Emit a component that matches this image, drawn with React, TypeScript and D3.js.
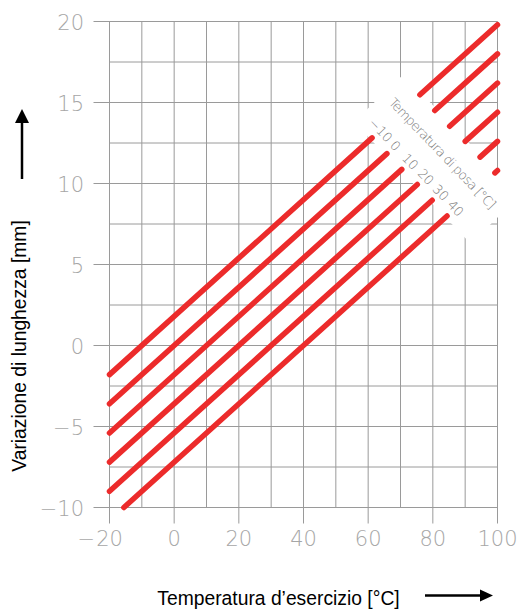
import React from 'react';
import * as d3 from 'd3';

// ---- data ----
const layingTemps = [-10, 0, 10, 20, 30, 40];            // Temperatura di posa [°C]
const elongAtMinus20 = [-1.8, -3.6, -5.4, -7.2, -9.0, -10.8]; // mm at T = -20 °C
const elongAt100 = [19.8, 18.0, 16.2, 14.4, 12.6, 10.8];     // mm at T = 100 °C
const gapStart = [61.2, 65.8, 70.4, 75.2, 79.8, 84.4];       // T where lower segment stops
const gapEnd = [76.0, 80.6, 85.2, 90.0, 94.6, 99.2];         // T where upper segment resumes
const xTicks = [-20, 0, 20, 40, 60, 80, 100];
const yTicks = [-10, -5, 0, 5, 10, 15, 20];
const xGrid = [-20, -10, 0, 10, 20, 30, 40, 50, 60, 70, 80, 90, 100];
const yGrid = [-10, -7.5, -5, -2.5, 0, 2.5, 5, 7.5, 10, 12.5, 15, 17.5, 20];
const postLabel = 'Temperatura di posa [°C]';
const xTitle = 'Temperatura d\u2019esercizio [°C]';
const yTitle = 'Variazione di lunghezza [mm]';

const X_MIN = -20, X_MAX = 100, Y_MIN = -10, Y_MAX = 20;

const tickFont = "'DejaVu Sans ExtraLight', 'DejaVu Sans', sans-serif";
const titleFont = "'Liberation Sans', Arial, sans-serif";

export default function App() {
  const W = 521, H = 610;
  const x = d3.scaleLinear().domain([X_MIN, X_MAX]).range([109.5, 497.5]);
  const y = d3.scaleLinear().domain([Y_MIN, Y_MAX]).range([507.5, 21.5]);

  const valueAt = (i: number, t: number) =>
    elongAtMinus20[i] + (elongAt100[i] - elongAtMinus20[i]) * (t - X_MIN) / (X_MAX - X_MIN);
  const slopeOf = (i: number) => (elongAt100[i] - elongAtMinus20[i]) / (X_MAX - X_MIN);
  const startT = (i: number) =>
    elongAtMinus20[i] < Y_MIN ? X_MIN + (Y_MIN - elongAtMinus20[i]) / slopeOf(i) : X_MIN;
  const px = (i: number, t: number): [number, number] => [x(t), y(valueAt(i, t))];

  const line = d3.line<[number, number]>();

  // band (white gap) geometry derived from gap points
  const P1 = px(0, gapStart[0]);
  const P6 = px(layingTemps.length - 1, gapStart[layingTemps.length - 1]);
  const Q1 = px(0, gapEnd[0]);
  const dx = P6[0] - P1[0], dy = P6[1] - P1[1];
  const L = Math.hypot(dx, dy);
  const u: [number, number] = [dx / L, dy / L];
  const n: [number, number] = [u[1], -u[0]];
  const w = (Q1[0] - P1[0]) * n[0] + (Q1[1] - P1[1]) * n[1];
  const s0 = -24, s1 = L + 36, o0 = -2, o1 = w + 2;
  const corner = (s: number, o: number): [number, number] => [P1[0] + u[0] * s + n[0] * o, P1[1] + u[1] * s + n[1] * o];
  const band = [corner(s0, o0), corner(s0, o1), corner(s1, o1), corner(s1, o0)];
  const bandAngle = Math.atan2(u[1], u[0]) * 180 / Math.PI;
  const titleC = corner(60, 40);

  // line direction in pixels
  const lp0 = px(0, 0), lp1 = px(0, 50);
  const ll = Math.hypot(lp1[0] - lp0[0], lp1[1] - lp0[1]);
  const dir: [number, number] = [(lp1[0] - lp0[0]) / ll, (lp1[1] - lp0[1]) / ll];

  const fmt = (v: number) => String(Math.abs(v));
  const tickFs = 21;
  const digitW = 0.636 * tickFs;

  return (
    <svg width={W} height={H} style={{ position: 'absolute', left: 0, top: 0, display: 'block' }}>
      <rect width={W} height={H} fill="#fff" />
      {/* grid */}
      <g stroke="#9a9a9a" strokeWidth={1} fill="none">
        {xGrid.map(v => (
          <line key={'xg' + v} x1={x(v)} x2={x(v)} y1={y(Y_MAX)} y2={xTicks.includes(v) ? y(Y_MIN) + 16 : y(Y_MIN)} />
        ))}
        {yGrid.map(v => (
          <line key={'yg' + v} y1={y(v)} y2={y(v)} x1={yTicks.includes(v) ? x(X_MIN) - 16 : x(X_MIN)} x2={x(X_MAX)} />
        ))}
      </g>
      {/* white gap band */}
      <polygon points={band.map(p => p.join(',')).join(' ')} fill="#fff" />
      {/* red lines */}
      <g stroke="#ec2b2b" strokeWidth={5.5} strokeLinecap="round" fill="none">
        {layingTemps.map((t0, i) => (
          <g key={'l' + t0}>
            <path d={line([px(i, startT(i)), px(i, gapStart[i])]) || ''} />
            <path d={line([px(i, gapEnd[i]), px(i, X_MAX)]) || ''} />
          </g>
        ))}
      </g>
      {/* band labels */}
      <g fontFamily={tickFont} fontWeight={200} fill="#7a7a7a" fontSize={13}>
        {layingTemps.map((t0, i) => {
          const p = px(i, gapStart[i]);
          const c: [number, number] = [p[0] + dir[0] * 11.5, p[1] + dir[1] * 11.5];
          return (
            <text key={'lt' + t0} transform={`translate(${c[0]},${c[1]}) rotate(${bandAngle})`}
              textAnchor="middle" dominantBaseline="central">
              {t0 < 0 ? '\u2212' + Math.abs(t0) : String(t0)}
            </text>
          );
        })}
        <text transform={`translate(${titleC[0]},${titleC[1]}) rotate(${bandAngle})`}
          textAnchor="middle" dominantBaseline="central" textLength={148} lengthAdjust="spacing">
          {postLabel}
        </text>
      </g>
      {/* tick labels */}
      <g fontFamily={tickFont} fontWeight={200} fill="#a6a6a6" fontSize={tickFs}>
        {yTicks.map(v => (
          <text key={'yt' + v} x={84} y={y(v) + 1} textAnchor="end" dominantBaseline="central">
            {v < 0 ? '\u2212' + fmt(v) : fmt(v)}
          </text>
        ))}
        {xTicks.map(v => (
          <g key={'xt' + v}>
            <text x={x(v)} y={546} textAnchor="middle">{fmt(v)}</text>
            {v < 0 && (
              <text x={x(v) - (fmt(v).length * digitW) / 2 - 1} y={546} textAnchor="end">{'\u2212'}</text>
            )}
          </g>
        ))}
      </g>
      {/* axis titles */}
      <text x={278.5} y={605} textAnchor="middle" fontFamily={titleFont} fontSize={19.3} fill="#000">{xTitle}</text>
      <text transform="translate(25.5,346) rotate(-90)" textAnchor="middle" fontFamily={titleFont} fontSize={19.3} fill="#000">{yTitle}</text>
      {/* arrows */}
      <line x1={22} x2={22} y1={121} y2={179} stroke="#000" strokeWidth={2.5} />
      <polygon points="22,109 15,123 29,123" fill="#000" />
      <line x1={425} x2={482} y1={595.5} y2={595.5} stroke="#000" strokeWidth={2.5} />
      <polygon points="493,595.5 480,589.5 480,601.5" fill="#000" />
    </svg>
  );
}
